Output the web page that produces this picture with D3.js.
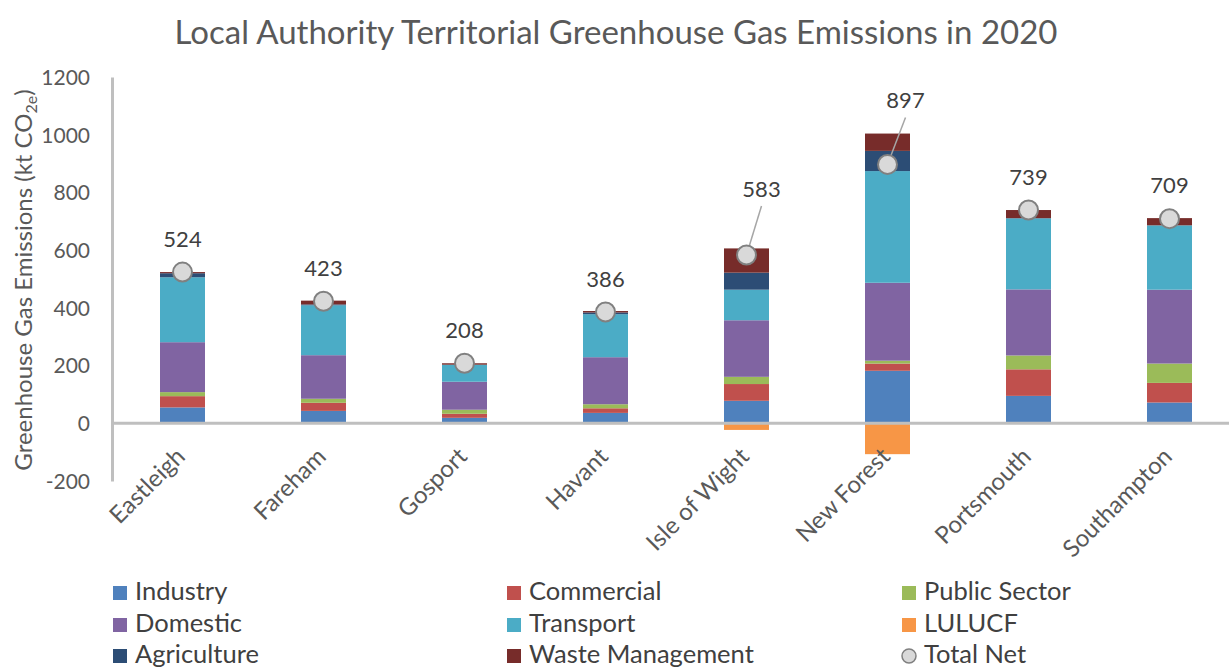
<!DOCTYPE html>
<html lang="en">
<head>
    <meta charset="UTF-8">
    <title>Local Authority Territorial Greenhouse Gas Emissions in 2020</title>
    <script src="https://d3js.org/d3.v7.min.js"></script>
    <style>
        body { margin: 0; background: #fff; }
        text { font-family: Lato, "Open Sans", sans-serif; fill: #595959; }
    </style>
</head>
<body>
<script>
    // values (kt CO2e)
    var categories = ["Eastleigh", "Fareham", "Gosport", "Havant", "Isle of Wight", "New Forest", "Portsmouth", "Southampton"];
    var industry    = [55, 43, 19, 36, 78, 182, 95, 72];
    var commercial  = [39, 28, 14, 16, 58, 25, 92, 68];
    var publicSector = [14, 14, 14, 14, 25, 10, 48, 67];
    var domestic    = [173, 151, 97, 163, 196, 270, 229, 256];
    var transport   = [225, 173, 59, 149, 106, 387, 246, 223];
    var lulucf      = [-1, -2, -1, -3, -23, -107, 0, -2];
    var agriculture = [14, 3, 0, 6, 59, 70, 1, 0];
    var waste       = [4, 13, 5, 5, 84, 60, 28, 25];
    var totalNet    = [524, 423, 208, 386, 583, 897, 739, 709];
    var yTicks      = [-200, 0, 200, 400, 600, 800, 1000, 1200];

    var seriesNames = ["Industry", "Commercial", "Public Sector", "Domestic", "Transport", "LULUCF", "Agriculture", "Waste Management"];
    var seriesValues = [industry, commercial, publicSector, domestic, transport, lulucf, agriculture, waste];
    var colors = ["#4f81bd", "#c0504d", "#9bbb59", "#8064a2", "#4bacc6", "#f79646", "#2c4d75", "#772c2a"];

    var width = 1229, height = 669;
    var svg = d3.select("body").append("svg")
        .attr("width", width)
        .attr("height", height);

    var rows = categories.map(function(c, i) {
        var r = { name: c };
        seriesNames.forEach(function(s, j) { r[s] = seriesValues[j][i]; });
        return r;
    });

    var stack = d3.stack().keys(seriesNames).offset(d3.stackOffsetDiverging);
    var layers = stack(rows);

    var x = d3.scaleBand().domain(categories).range([112, 1240]);
    var y = d3.scaleLinear().domain([-200, 1200]).range([481, 77]);
    var barW = 45;

    // title
    svg.append("text")
        .attr("x", 616).attr("y", 44)
        .attr("text-anchor", "middle")
        .style("font-size", "33px")
        .text("Local Authority Territorial Greenhouse Gas Emissions in 2020");

    // y axis
    var yAxis = d3.axisLeft(y).tickValues(yTicks).tickSize(0).tickPadding(22)
        .tickFormat(function(d) { return String(d); });
    var gy = svg.append("g").attr("transform", "translate(112,0)").call(yAxis);
    gy.select(".domain").attr("stroke", "#bfbfbf").attr("stroke-width", 3);
    gy.selectAll("text").style("font-size", "21px").attr("fill", "#595959").attr("dy", "0.35em");

    var yTitle = svg.append("text")
        .attr("transform", "translate(32,280) rotate(-90)")
        .attr("text-anchor", "middle")
        .style("font-size", "24px");
    yTitle.append("tspan").text("Greenhouse Gas Emissions (kt CO");
    yTitle.append("tspan").attr("dy", 5).style("font-size", "16px").text("2e");
    yTitle.append("tspan").attr("dy", -5).text(")");

    // bars
    svg.append("g").selectAll("g")
        .data(layers)
        .join("g")
        .attr("fill", function(d, i) { return colors[i]; })
        .selectAll("rect")
        .data(function(d) { return d; })
        .join("rect")
        .attr("x", function(d) { return x(d.data.name) + x.bandwidth() / 2 - barW / 2; })
        .attr("width", barW)
        .attr("y", function(d) { return y(d[1]); })
        .attr("height", function(d) { return Math.max(0, y(d[0]) - y(d[1])); });

    // zero line
    svg.append("line")
        .attr("x1", 112).attr("x2", width)
        .attr("y1", y(0)).attr("y2", y(0))
        .attr("stroke", "#bfbfbf").attr("stroke-width", 3);

    // category labels
    svg.append("g").selectAll("text")
        .data(categories)
        .join("text")
        .attr("transform", function(d) {
            return "translate(" + (x(d) + x.bandwidth() / 2 + 4) + ",458) rotate(-45)";
        })
        .attr("text-anchor", "end")
        .style("font-size", "24px")
        .text(function(d) { return d; });

    // total net markers and labels
    var labelShift = { "Isle of Wight": [15, -66], "New Forest": [18, -64] };
    var net = svg.append("g");
    categories.forEach(function(c, i) {
        var cx = x(c) + x.bandwidth() / 2, cy = y(totalNet[i]);
        var off = labelShift[c] || [0, -33];
        if (labelShift[c]) {
            net.append("line")
                .attr("x1", cx + off[0]).attr("y1", cy + off[1] + 17)
                .attr("x2", cx).attr("y2", cy)
                .attr("stroke", "#a6a6a6").attr("stroke-width", 1.5);
        }
        net.append("circle")
            .attr("cx", cx).attr("cy", cy).attr("r", 9.5)
            .attr("fill", "#d9d9d9").attr("stroke", "#808080").attr("stroke-width", 2);
        net.append("text")
            .attr("x", cx + off[0]).attr("y", cy + off[1])
            .attr("dy", "0.35em")
            .attr("text-anchor", "middle")
            .style("font-size", "22px")
            .style("fill", "#404040")
            .text(totalNet[i]);
    });

    // legend
    var legendItems = seriesNames.concat(["Total Net"]);
    var colX = [113, 507, 902], rowY = [593, 625, 656];
    var legend = svg.append("g").selectAll("g")
        .data(legendItems)
        .join("g")
        .attr("transform", function(d, i) { return "translate(" + colX[i % 3] + "," + rowY[Math.floor(i / 3)] + ")"; });
    legend.each(function(d, i) {
        var g = d3.select(this);
        if (i < colors.length) {
            g.append("rect").attr("x", 0).attr("y", -7).attr("width", 14).attr("height", 14).attr("fill", colors[i]);
        } else {
            g.append("circle").attr("cx", 7).attr("cy", 0).attr("r", 7)
                .attr("fill", "#d9d9d9").attr("stroke", "#808080").attr("stroke-width", 1.5);
        }
        g.append("text").attr("x", 22).attr("y", 7)
            .style("font-size", "25.5px").style("fill", "#404040")
            .text(d);
    });
</script>
</body>
</html>
